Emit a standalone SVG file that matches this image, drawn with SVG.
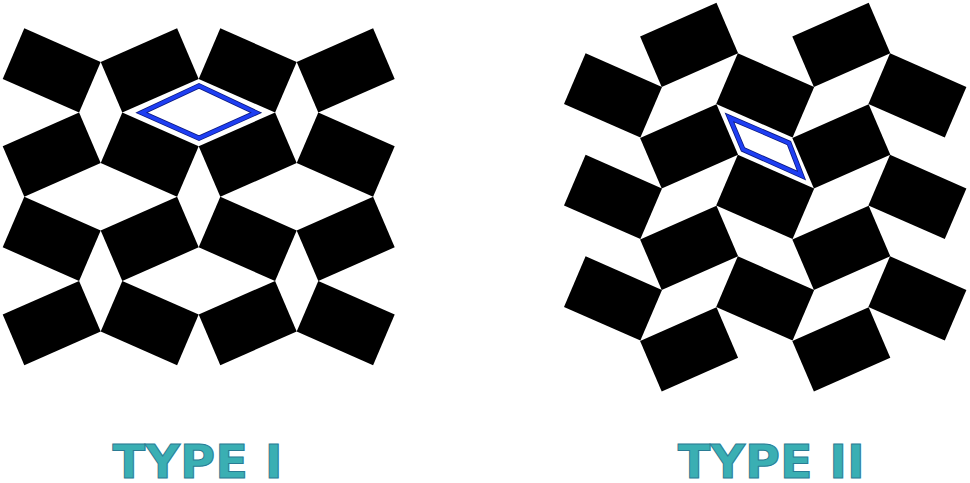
<svg xmlns="http://www.w3.org/2000/svg" xmlns:xlink="http://www.w3.org/1999/xlink" width="970" height="483" viewBox="0 0 970 483">
  <style>
    .tile { fill: #000000; }
    .cellOut { fill: none; stroke: #0c1a80; stroke-width: 5.2; stroke-linejoin: miter; }
    .cellIn { fill: none; stroke: #1e3ef2; stroke-width: 3.6; stroke-linejoin: miter; }
    .label { font-family: "DejaVu Sans", "Liberation Sans", sans-serif; font-weight: bold; font-size: 47px; fill: #3aafb3; stroke: #2a7c94; stroke-width: 1; }
  </style>
  <defs>
    <polygon id="back" class="tile" points="21.6,0 98,33.7 76.4,84.3 0,50.6"/>
    <polygon id="fwd" class="tile" points="76.4,0 98,50.6 21.6,84.3 0,33.7"/>
  </defs>
  <rect width="970" height="483" fill="#ffffff"/>

  <g id="type1">
    <use href="#back" x="2.7" y="28.3"/>
    <use href="#fwd" x="100.7" y="28.3"/>
    <use href="#back" x="198.7" y="28.3"/>
    <use href="#fwd" x="296.7" y="28.3"/>
    <use href="#fwd" x="2.7" y="112.5"/>
    <use href="#back" x="100.7" y="112.5"/>
    <use href="#fwd" x="198.7" y="112.5"/>
    <use href="#back" x="296.7" y="112.5"/>
    <use href="#back" x="2.7" y="196.7"/>
    <use href="#fwd" x="100.7" y="196.7"/>
    <use href="#back" x="198.7" y="196.7"/>
    <use href="#fwd" x="296.7" y="196.7"/>
    <use href="#fwd" x="2.7" y="280.9"/>
    <use href="#back" x="100.7" y="280.9"/>
    <use href="#fwd" x="198.7" y="280.9"/>
    <use href="#back" x="296.7" y="280.9"/>
    <g id="cell1">
      <polygon class="cellOut" points="141.6,112.7 199,85.8 256,112.7 199,138.2"/>
      <polygon class="cellIn" points="141.6,112.7 199,85.8 256,112.7 199,138.2"/>
    </g>
  </g>

  <g id="type2">
    <use href="#back" x="564" y="53.3"/>
    <use href="#back" x="564" y="154.8"/>
    <use href="#back" x="564" y="256.3"/>
    <use href="#fwd" x="640.1" y="2.7"/>
    <use href="#fwd" x="640.1" y="104.2"/>
    <use href="#fwd" x="640.1" y="205.7"/>
    <use href="#fwd" x="640.1" y="307.2"/>
    <use href="#back" x="716.2" y="53.3"/>
    <use href="#back" x="716.2" y="154.8"/>
    <use href="#back" x="716.2" y="256.3"/>
    <use href="#fwd" x="792.3" y="2.7"/>
    <use href="#fwd" x="792.3" y="104.2"/>
    <use href="#fwd" x="792.3" y="205.7"/>
    <use href="#fwd" x="792.3" y="307.2"/>
    <use href="#back" x="868.4" y="53.3"/>
    <use href="#back" x="868.4" y="154.8"/>
    <use href="#back" x="868.4" y="256.3"/>
    <g id="cell2">
      <polygon class="cellOut" points="729.5,117.5 789,143 801.5,175.5 743,149.5"/>
      <polygon class="cellIn" points="729.5,117.5 789,143 801.5,175.5 743,149.5"/>
    </g>
  </g>

  <g id="labels">
    <text id="label1" class="label" x="112.5" y="478" textLength="170" lengthAdjust="spacingAndGlyphs">TYPE I</text>
    <text id="label2" class="label" x="677.8" y="478" textLength="187" lengthAdjust="spacingAndGlyphs">TYPE II</text>
  </g>
</svg>
